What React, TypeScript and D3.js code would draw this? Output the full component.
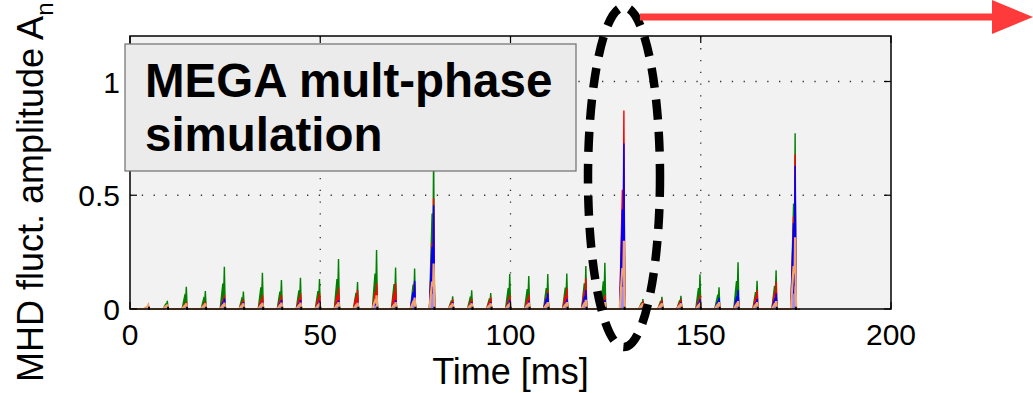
import React from "react";
import * as d3 from "d3";

const times = [5,10,15,20,25,30,35,40,45,50,55,60,65,70,75,80,85,90,95,100,105,110,115,120,125,130,135,140,145,150,155,160,165,170,175];
const greenPeaks = [0.016,0.036,0.098,0.079,0.186,0.077,0.159,0.127,0.137,0.132,0.22,0.119,0.259,0.182,0.178,0.70,0.056,0.082,0.070,0.154,0.145,0.154,0.156,0.189,0.203,0.48,0.044,0.054,0.058,0.153,0.095,0.205,0.124,0.170,0.773];
const redPeaks = [0.008,0.012,0.032,0.032,0.061,0.042,0.061,0.061,0.069,0.069,0.094,0.083,0.113,0.113,0.12,0.487,0.043,0.045,0.051,0.061,0.064,0.083,0.091,0.135,0.06,0.873,0.035,0.04,0.043,0.061,0.04,0.076,0.083,0.12,0.68];
const bluePeaks = [0.004,0.006,0.015,0.015,0.047,0.03,0.032,0.039,0.039,0.036,0.039,0.031,0.051,0.039,0.124,0.456,0.03,0.03,0.03,0.039,0.036,0.069,0.045,0.083,0.04,0.728,0.025,0.028,0.03,0.043,0.05,0.083,0.045,0.069,0.63];
const lavenderPeaks = [0.008,0.01,0.012,0.012,0.015,0.012,0.015,0.015,0.015,0.015,0.018,0.015,0.02,0.018,0.03,0.1,0.012,0.012,0.012,0.015,0.015,0.02,0.018,0.03,0.02,0.16,0.012,0.012,0.012,0.015,0.02,0.03,0.02,0.03,0.1];
const orangePeaks = [0.015,0.02,0.025,0.025,0.028,0.025,0.028,0.028,0.028,0.028,0.03,0.028,0.06,0.03,0.05,0.2,0.025,0.025,0.025,0.028,0.028,0.03,0.03,0.04,0.03,0.30,0.025,0.025,0.025,0.028,0.03,0.035,0.03,0.035,0.315];
// pulse profile: [time offset in ms, fraction of peak]
const pulseProfile: [number, number][] = [[-1.3,0],[-0.9,0.35],[-0.6,0.6],[-0.35,0.5],[-0.2,1],[0,0.15],[0.1,0]];
const simEnd = 176;
const xTicks = [0,50,100,150,200];
const yTicks = [0,0.5,1];
const yTickLabels = ["0","0.5","1"];

const W = 1033, H = 393;
const FONT = "'Liberation Sans', Arial, Helvetica, sans-serif";

function build(peaks: number[]): [number, number][] {
  const pts: [number, number][] = [[0, 0]];
  times.forEach((t, i) => {
    pulseProfile.forEach(([dt, f]) => pts.push([t + dt, f * peaks[i]]));
  });
  pts.push([simEnd, 0]);
  return pts;
}

export default function App() {
  const x = d3.scaleLinear().domain([0, 200]).range([130, 891]);
  const y = d3.scaleLinear().domain([0, 1.2]).range([309, 36]);
  const area = d3.area<[number, number]>().x(d => x(d[0])).y0(y(0)).y1(d => y(d[1]));
  const line = d3.line<[number, number]>().x(d => x(d[0])).y(d => y(d[1]));

  const filled = [
    { peaks: greenPeaks, color: "#008000" },
    { peaks: redPeaks, color: "#ff0000" },
    { peaks: bluePeaks, color: "#0000ff" },
    { peaks: lavenderPeaks, color: "#9a8cff" },
  ];
  const [x0, x1] = x.range();
  const [yb, yt] = y.range();

  return (
    <svg width={W} height={H} style={{ position: "absolute", left: 0, top: 0, background: "#fff" }} fontFamily={FONT}>
      <rect x={x0} y={yt} width={x1 - x0} height={yb - yt} fill="#f2f2f2" />
      {xTicks.slice(1, -1).map(t => (
        <line key={"gx" + t} x1={x(t)} x2={x(t)} y1={yb} y2={yt} stroke="#333" strokeWidth={1.3} strokeDasharray="1.3,10.5" />
      ))}
      {yTicks.slice(1).map(t => (
        <line key={"gy" + t} x1={x0} x2={x1} y1={y(t)} y2={y(t)} stroke="#333" strokeWidth={1.3} strokeDasharray="1.3,10.5" />
      ))}
      {filled.map((s, i) => {
        const pts = build(s.peaks);
        return (
          <g key={i}>
            <path d={area(pts) || ""} fill={s.color} stroke="none" />
            <path d={line(pts) || ""} fill="none" stroke={s.color} strokeWidth={1.4} />
          </g>
        );
      })}
      <path d={line(build(orangePeaks)) || ""} fill="none" stroke="#f5a36b" strokeWidth={2.2} />
      {times.map(t => (
        <line key={"b" + t} x1={x(t)} x2={x(t)} y1={y(0) + 1} y2={y(0.01)} stroke="#111" strokeWidth={2} />
      ))}
      <rect x={x0} y={yt} width={x1 - x0} height={yb - yt} fill="none" stroke="#000" strokeWidth={1.5} />
      {xTicks.map(t => (
        <g key={"tx" + t}>
          <line x1={x(t)} x2={x(t)} y1={yb} y2={yb - 7} stroke="#000" strokeWidth={1.2} />
          <line x1={x(t)} x2={x(t)} y1={yt} y2={yt + 7} stroke="#000" strokeWidth={1.2} />
          <text x={x(t)} y={345} textAnchor="middle" fontSize={30} fill="#000">{t}</text>
        </g>
      ))}
      {yTicks.map((t, i) => (
        <g key={"ty" + t}>
          <line x1={x0} x2={x0 + 7} y1={y(t)} y2={y(t)} stroke="#000" strokeWidth={1.2} />
          <line x1={x1} x2={x1 - 7} y1={y(t)} y2={y(t)} stroke="#000" strokeWidth={1.2} />
          <text x={120} y={y(t) + 11} textAnchor="end" fontSize={30} fill="#000">{yTickLabels[i]}</text>
        </g>
      ))}
      <text x={(x0 + x1) / 2} y={384} textAnchor="middle" fontSize={36} fill="#000">Time [ms]</text>
      <text transform="translate(43,382) rotate(-90)" fontSize={36} fill="#000">
        MHD fluct. amplitude A<tspan fontSize={24} dy={10}>n</tspan>
      </text>
      <rect x={125} y={44} width={451} height={127} fill="#ebebeb" stroke="#6e6e6e" strokeWidth={1.2} />
      <text x={145} y={97} fontSize={47.5} fontWeight="bold" fill="#000">MEGA mult-phase</text>
      <text x={145} y={151} fontSize={47.5} fontWeight="bold" fill="#000">simulation</text>
      <ellipse cx={624} cy={177} rx={36} ry={170} fill="none" stroke="#000" strokeWidth={8.5} strokeDasharray="20,12" />
      <line x1={640} x2={994} y1={17} y2={17} stroke="#ff3a3a" strokeWidth={7} />
      <path d="M992,0 L1033,17 L992,34 Z" fill="#ff3a3a" />
    </svg>
  );
}
